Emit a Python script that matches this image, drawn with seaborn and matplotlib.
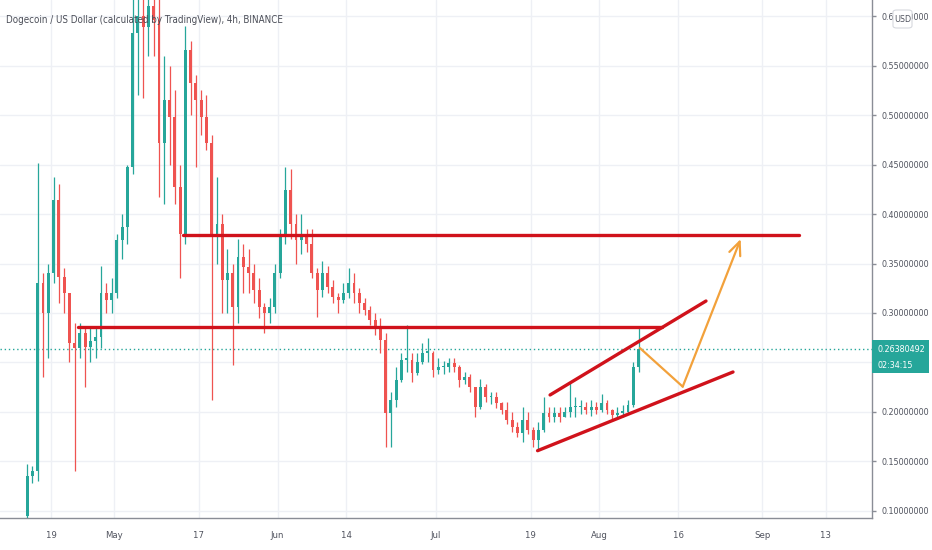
import pandas as pd
import numpy as np
import matplotlib
matplotlib.use('Agg')
import matplotlib.pyplot as plt
import matplotlib.dates as mdates
from matplotlib import font_manager as fm
from matplotlib.patches import FancyBboxPatch, Rectangle
import seaborn as sns

# Daily candles (Apr 14 .. Aug 8, 2021)
dates = pd.date_range('2021-04-14', '2021-08-08', freq='D')
first_open = 0.095
closes = [
    0.135, 0.14, 0.33, 0.30, 0.34,                      # Apr 14-18
    0.414, 0.336, 0.32, 0.27, 0.265, 0.28, 0.266, 0.272, 0.276, 0.32, 0.313, 0.32,  # Apr 19-30
    0.374, 0.387, 0.447, 0.583, 0.60, 0.589, 0.61, 0.596, 0.472, 0.515,            # May 1-10
    0.498, 0.427, 0.38, 0.566, 0.532, 0.515, 0.498, 0.472, 0.38, 0.39,             # May 11-20
    0.333, 0.34, 0.306, 0.357, 0.346, 0.34, 0.323, 0.306, 0.30, 0.306, 0.34,       # May 21-31
    0.377, 0.424, 0.39, 0.374, 0.377, 0.37, 0.34, 0.323, 0.34, 0.326,              # Jun 1-10
    0.316, 0.313, 0.32, 0.33, 0.32, 0.31, 0.303, 0.293, 0.286, 0.273,              # Jun 11-20
    0.199, 0.212, 0.232, 0.253, 0.253, 0.239, 0.25, 0.26, 0.26, 0.242,             # Jun 21-30
    0.245, 0.245, 0.249, 0.245, 0.232, 0.235, 0.225, 0.205, 0.225, 0.215,          # Jul 1-10
    0.215, 0.209, 0.202, 0.192, 0.185, 0.179, 0.192, 0.182, 0.172, 0.182,          # Jul 11-20
    0.199, 0.195, 0.199, 0.195, 0.20, 0.205, 0.205, 0.205, 0.202, 0.205, 0.202,    # Jul 21-31
    0.209, 0.202, 0.197, 0.199, 0.20, 0.207, 0.245, 0.2638,                        # Aug 1-8
]
highs = [
    0.147, 0.145, 0.452, 0.34, 0.35,
    0.437, 0.43, 0.345, 0.32, 0.29, 0.29, 0.285, 0.285, 0.285, 0.347, 0.33, 0.335,
    0.38, 0.40, 0.45, 0.66, 0.70, 0.70, 0.74, 0.70, 0.62, 0.56,
    0.55, 0.525, 0.45, 0.59, 0.575, 0.54, 0.525, 0.52, 0.48, 0.437,
    0.40, 0.365, 0.35, 0.375, 0.37, 0.365, 0.35, 0.335, 0.31, 0.315, 0.35,
    0.385, 0.447, 0.445, 0.40, 0.40, 0.385, 0.385, 0.345, 0.353, 0.347,
    0.333, 0.32, 0.33, 0.345, 0.34, 0.325, 0.315, 0.307, 0.30, 0.295,
    0.28, 0.22, 0.245, 0.26, 0.288, 0.26, 0.26, 0.27, 0.275, 0.262,
    0.255, 0.252, 0.255, 0.255, 0.247, 0.24, 0.238, 0.222, 0.233, 0.228,
    0.22, 0.22, 0.21, 0.21, 0.20, 0.19, 0.205, 0.20, 0.185, 0.19,
    0.215, 0.205, 0.205, 0.205, 0.205, 0.23, 0.215, 0.212, 0.21, 0.212, 0.21,
    0.218, 0.212, 0.203, 0.205, 0.207, 0.212, 0.25, 0.285,
]
lows = [
    0.093, 0.128, 0.13, 0.235, 0.255,
    0.33, 0.31, 0.30, 0.25, 0.14, 0.255, 0.225, 0.25, 0.255, 0.265, 0.30, 0.30,
    0.315, 0.355, 0.37, 0.44, 0.52, 0.517, 0.56, 0.56, 0.417, 0.41,
    0.45, 0.41, 0.335, 0.37, 0.50, 0.447, 0.48, 0.465, 0.212, 0.35,
    0.30, 0.30, 0.247, 0.29, 0.32, 0.32, 0.31, 0.295, 0.28, 0.29, 0.30,
    0.335, 0.37, 0.375, 0.35, 0.36, 0.362, 0.335, 0.296, 0.316, 0.32,
    0.31, 0.30, 0.31, 0.315, 0.31, 0.30, 0.298, 0.288, 0.278, 0.26,
    0.165, 0.165, 0.205, 0.23, 0.24, 0.23, 0.237, 0.248, 0.25, 0.235,
    0.238, 0.238, 0.24, 0.24, 0.225, 0.228, 0.22, 0.195, 0.203, 0.21,
    0.208, 0.204, 0.198, 0.188, 0.18, 0.175, 0.17, 0.178, 0.165, 0.161,
    0.18, 0.19, 0.19, 0.19, 0.195, 0.195, 0.195, 0.198, 0.198, 0.196, 0.198,
    0.20, 0.198, 0.193, 0.193, 0.195, 0.198, 0.205, 0.24,
]

# drawn levels / trendlines (date, price)
res_top = (['2021-05-14 01:00', '2021-09-07 22:00'], [0.3785, 0.3785])
res_mid = (['2021-04-24 01:00', '2021-08-12 22:00'], [0.2859, 0.2859])
chan_up = (['2021-07-22 17:00', '2021-08-21 07:00'], [0.2172, 0.3121])
chan_lo = (['2021-07-20 08:00', '2021-08-26 10:00'], [0.1609, 0.2404])
path_orange = (['2021-08-08 18:00', '2021-08-16 21:00', '2021-08-27 21:00'], [0.2646, 0.2256, 0.3747])

tick_dates = ['2021-04-19', '2021-05-01', '2021-05-17', '2021-06-01', '2021-06-14', '2021-07-01',
              '2021-07-19', '2021-08-01', '2021-08-16', '2021-09-01', '2021-09-13']
tick_labels = ['19', 'May', '17', 'Jun', '14', 'Jul', '19', 'Aug', '16', 'Sep', '13']
price_ticks = [0.10, 0.15, 0.20, 0.25, 0.30, 0.35, 0.40, 0.45, 0.50, 0.55, 0.60]

last_price = '0.26380492'
countdown = '02:34:15'
title = 'Dogecoin / US Dollar (calculated by TradingView), 4h, BINANCE'

UP = '#26a69a'
DOWN = '#ef5350'
LINE_RED = '#d0121b'
ORANGE = '#f2a13b'
TXT = '#50535e'

sns.set_theme(style='white')
plt.rcParams['font.family'] = ['DejaVu Sans']

# pick a narrow sans if there is one, like the chart's condensed UI font
narrow = None
for f in fm.fontManager.ttflist:
    nm = f.name.lower()
    if ('narrow' in nm or 'condensed' in nm or f.stretch in ('condensed', 'semi-condensed')) \
            and f.weight in (400, 'normal', 'regular') and f.style == 'normal':
        narrow = f
        break
if narrow is not None:
    FP = dict(fontproperties=fm.FontProperties(fname=narrow.fname))
    base, tsize = 6.4, 7.0
else:
    FP = dict(family='Liberation Sans')
    base, tsize = 6.0, 6.0

def fp(size):
    if 'fontproperties' in FP:
        p = FP['fontproperties'].copy()
        p.set_size(size)
        return dict(fontproperties=p)
    return dict(family=FP['family'], fontsize=size)

df = pd.DataFrame({'date': dates + pd.Timedelta(hours=12), 'close': closes, 'high': highs, 'low': lows})
df['open'] = [first_open] + closes[:-1]
df['high'] = df[['high', 'open', 'close']].max(axis=1)
df['low'] = df[['low', 'open', 'close']].min(axis=1)
df['up'] = df['close'] >= df['open']
df['color'] = np.where(df['up'], UP, DOWN)

W, H = 932, 550
fig = plt.figure(figsize=(W / 100, H / 100), dpi=100)
ax = fig.add_axes([0, 32 / H, 872 / W, 518 / H])

ax.vlines(df['date'], df['low'], df['high'], colors=df['color'], lw=0.9, zorder=3)
body = (df['close'] - df['open']).abs().clip(lower=0.0015)
ax.bar(df['date'], body, bottom=df[['open', 'close']].min(axis=1), width=0.55,
       color=df['color'], linewidth=0, zorder=3)

# last price dotted line
ax.axhline(closes[-1], color=UP, lw=1, ls=(0, (1, 2)), zorder=2)

for xs, ys in [res_top, res_mid, chan_up, chan_lo]:
    sns.lineplot(x=pd.to_datetime(xs), y=ys, ax=ax, color=LINE_RED, lw=2.4, zorder=5)

ox = pd.to_datetime(path_orange[0])
oy = path_orange[1]
sns.lineplot(x=ox[:2], y=oy[:2], ax=ax, color=ORANGE, lw=1.6, zorder=6)
ax.annotate('', xy=(mdates.date2num(ox[2]), oy[2]), xytext=(mdates.date2num(ox[1]), oy[1]),
            arrowprops=dict(arrowstyle='->,head_length=0.8,head_width=0.35', color=ORANGE,
                            lw=1.6, shrinkA=0, shrinkB=0), zorder=6)

ax.set_xlim(mdates.date2num(pd.Timestamp('2021-04-09 08:00')),
            mdates.date2num(pd.Timestamp('2021-09-21 19:00')))
ax.set_ylim(0.0929, 0.6162)

ax.set_xticks(pd.to_datetime(tick_dates))
ax.set_xticklabels(tick_labels)
ax.yaxis.tick_right()
ax.set_yticks(price_ticks)
# the 0.25 label sits under the last-price tag
ax.set_yticklabels(['' if abs(p - 0.25) < 1e-9 else '%.8f' % p for p in price_ticks])
ax.tick_params(axis='both', length=3, width=1, colors='#8a8d96', labelcolor=TXT)
ax.tick_params(axis='x', pad=6)
ax.tick_params(axis='y', pad=4)
for lab in ax.get_xticklabels():
    lab.update(fp(base + 0.4))
for lab in ax.get_yticklabels():
    lab.update(fp(base))
ax.grid(True, color='#eef0f5', lw=1, zorder=0)
ax.set_axisbelow(True)
for s in ['left', 'top']:
    ax.spines[s].set_visible(False)
for s in ['right', 'bottom']:
    ax.spines[s].set_color('#8a8d96')
    ax.spines[s].set_linewidth(1)
ax.set_xlabel('')
ax.set_ylabel('')

# title on the chart
fig.text(6 / W, 1 - 20 / H, title, ha='left', va='center', color='#4a4d57', zorder=10, **fp(tsize))

# last price tag
fig.patches.append(Rectangle((872 / W, 1 - 373 / H), 57 / W, 33 / H, transform=fig.transFigure,
                             facecolor=UP, edgecolor='none', zorder=10))
fig.text(878 / W, 1 - 349 / H, last_price, ha='left', va='center', color='white', zorder=11, **fp(base))
fig.text(878 / W, 1 - 366 / H, countdown, ha='left', va='center', color='white', zorder=11, **fp(base))

# USD badge
fig.patches.append(FancyBboxPatch((893 / W, 1 - 28 / H), 19 / W, 18 / H, transform=fig.transFigure,
                                  boxstyle='round,pad=0,rounding_size=0.004', facecolor='white',
                                  edgecolor='#d6d8de', lw=0.8, zorder=10))
fig.text(902.5 / W, 1 - 19 / H, 'USD', ha='center', va='center', color=TXT, zorder=11, **fp(base))

fig.savefig('out.png', dpi=100)
